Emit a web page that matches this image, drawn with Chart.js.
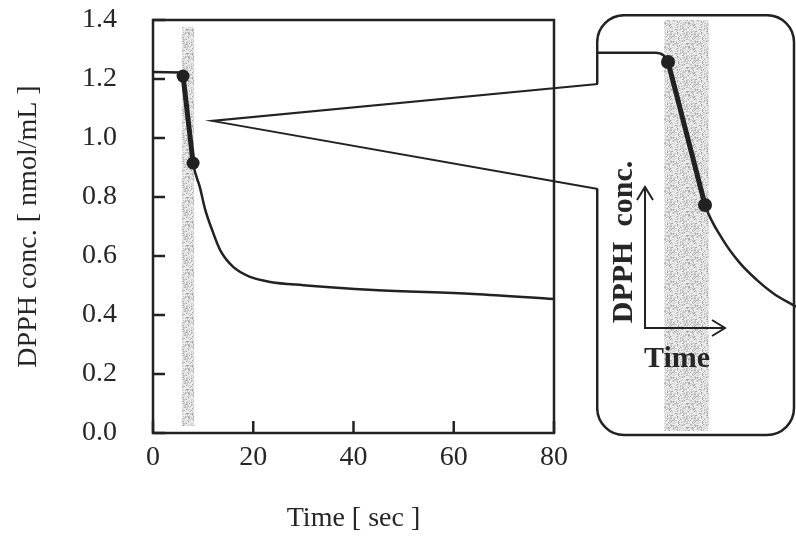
<!DOCTYPE html>
<html>
<head>
<meta charset="utf-8">
<script src="https://cdn.jsdelivr.net/npm/chart.js@4.4.1/dist/chart.umd.min.js"></script>
<style>
  html, body { margin: 0; padding: 0; background: #fff; }
  #wrap { position: relative; width: 796px; height: 542px; overflow: hidden; }
  #main { position: absolute; left: 0; top: 0; }
  #inset { position: absolute; left: 596px; top: 14px; }
</style>
</head>
<body>
<div id="wrap">
  <canvas id="main" width="796" height="542"></canvas>
  <canvas id="inset" width="200" height="423"></canvas>
</div>
<script>
// main curve (sec, nmol/mL)
const timeSec = [0, 5.4, 6, 8, 9.4, 10.4, 11.8, 13.4, 16, 19.4, 23.4, 30, 44, 64, 80];
const concMain = [1.224, 1.222, 1.21, 0.915, 0.83, 0.758, 0.688, 0.62, 0.563, 0.529, 0.512, 0.501, 0.485, 0.471, 0.454];

// the two marked points and the shaded interval
const markerTime = [6, 8];
const markerConc = [1.21, 0.915];
const bandSec = [5.8, 8.2];

// zoomed schematic in the inset
const insetTime = [2.1, 5.3, 5.75, 6, 8, 8.97, 9.89, 10.81, 11.68, 12.92];
const insetConc = [1.229, 1.229, 1.224, 1.21, 0.915, 0.843, 0.795, 0.76, 0.733, 0.705];

// where the callout wedge starts
const calloutApex = [11.8, 1.058];

const xTicks = [0, 20, 40, 60, 80];
const yTicks = [0, 0.2, 0.4, 0.6, 0.8, 1.0, 1.2, 1.4];

const ink = '#222';
const textCol = '#262626';
const serif = '"Liberation Serif", "Times New Roman", serif';
const font = { family: serif, size: 28 };

const INSET_X = 596, INSET_Y = 14;

function pts(xs, ys) {
  return xs.map((x, i) => ({ x: x, y: ys[i] }));
}

function stipple(ctx) {
  const c = document.createElement('canvas');
  c.width = c.height = 24;
  const g = c.getContext('2d');
  g.fillStyle = '#ebebeb';
  g.fillRect(0, 0, 24, 24);
  for (let i = 0; i < 24; i++) {
    for (let j = 0; j < 24; j++) {
      const h = Math.abs(Math.sin(i * 12.9898 + j * 78.233) * 43758.5453) % 1;
      if (h < 0.4) {
        g.fillStyle = h < 0.1 ? '#a8a8a8' : '#cdcdcd';
        g.fillRect(i, j, 1, 1);
      }
    }
  }
  return ctx.createPattern(c, 'repeat');
}

// shaded reaction interval, drawn under the lines
const band = {
  id: 'band',
  beforeDatasetsDraw(chart, args, opts) {
    const { ctx, chartArea: a, scales: { x } } = chart;
    const x0 = x.getPixelForValue(bandSec[0]);
    const x1 = x.getPixelForValue(bandSec[1]);
    ctx.save();
    ctx.fillStyle = stipple(ctx);
    ctx.fillRect(x0, a.top + opts.inset, x1 - x0, a.bottom - a.top - 2 * opts.inset);
    ctx.restore();
  }
};

// frame, inward ticks and the callout wedge
const frame = {
  id: 'frame',
  afterDraw(chart) {
    const { ctx, chartArea: a, scales: { x, y } } = chart;
    ctx.save();
    ctx.strokeStyle = ink;
    ctx.lineWidth = 2.5;
    ctx.strokeRect(a.left, a.top, a.right - a.left, a.bottom - a.top);
    ctx.beginPath();
    x.ticks.forEach(t => {
      const px = x.getPixelForValue(t.value);
      ctx.moveTo(px, a.bottom);
      ctx.lineTo(px, a.bottom - 12);
    });
    y.ticks.forEach(t => {
      const py = y.getPixelForValue(t.value);
      ctx.moveTo(a.left, py);
      ctx.lineTo(a.left + 12, py);
    });
    ctx.stroke();

    const ax = x.getPixelForValue(calloutApex[0]);
    const ay = y.getPixelForValue(calloutApex[1]);
    ctx.lineWidth = 2;
    ctx.beginPath();
    ctx.moveTo(INSET_X + 2, INSET_Y + 70);
    ctx.lineTo(ax, ay);
    ctx.lineTo(INSET_X + 2, INSET_Y + 175);
    ctx.stroke();
    ctx.restore();
  }
};

new Chart(document.getElementById('main'), {
  type: 'line',
  data: {
    datasets: [
      {
        data: pts(timeSec, concMain),
        borderColor: ink,
        borderWidth: 2.5,
        pointRadius: 0,
        cubicInterpolationMode: 'monotone'
      },
      {
        data: pts(markerTime, markerConc),
        borderColor: ink,
        borderWidth: 5,
        pointRadius: 6.5,
        pointBackgroundColor: ink,
        pointBorderWidth: 0
      }
    ]
  },
  options: {
    responsive: false,
    animation: false,
    layout: { autoPadding: false, padding: { top: 20, right: 242, left: 0, bottom: 0 } },
    plugins: {
      legend: { display: false },
      tooltip: { enabled: false },
      band: { inset: 7 }
    },
    scales: {
      x: {
        type: 'linear',
        min: 0,
        max: 80,
        afterBuildTicks: s => { s.ticks = xTicks.map(v => ({ value: v })); },
        // invisible tick length is used as the gap to the labels
        grid: { display: false, drawTicks: true, tickLength: 8 },
        border: { display: false },
        ticks: { font: font, color: textCol, padding: 0, maxRotation: 0 },
        title: { display: true, text: 'Time [ sec ]', font: font, color: textCol, padding: { top: 0, bottom: 7 } },
        afterFit: s => { s.height = 109; }
      },
      y: {
        type: 'linear',
        min: 0,
        max: 1.4,
        afterBuildTicks: s => { s.ticks = yTicks.map(v => ({ value: v })); },
        grid: { display: false, drawTicks: true, tickLength: 36 },
        border: { display: false },
        ticks: { font: font, color: textCol, padding: 0, callback: v => v.toFixed(1) },
        title: { display: true, text: 'DPPH conc. [ nmol/mL ]', font: font, color: textCol, padding: { top: 12, bottom: 0 } },
        afterFit: s => { s.width = 153; }
      }
    }
  },
  plugins: [band, frame]
});

// inset: rounded box, schematic axes with arrows
const insetDecor = {
  id: 'insetDecor',
  afterDraw(chart) {
    const { ctx } = chart;
    const l = 1.2, t = 1.2, r = 198, b = 421, rad = 27;
    ctx.save();
    ctx.strokeStyle = ink;
    ctx.lineWidth = 2.5;
    ctx.beginPath();
    ctx.moveTo(l, 70);
    ctx.arcTo(l, t, l + rad, t, rad);
    ctx.arcTo(r, t, r, t + rad, rad);
    ctx.arcTo(r, b, r - rad, b, rad);
    ctx.arcTo(l, b, l, b - rad, rad);
    ctx.lineTo(l, 175);
    ctx.stroke();

    // little axes
    const ox = 49, oy = 314, top = 173, right = 129, head = 11;
    ctx.lineWidth = 2;
    ctx.beginPath();
    ctx.moveTo(ox, top);
    ctx.lineTo(ox, oy);
    ctx.lineTo(right, oy);
    ctx.moveTo(ox - 8, top + head + 2);
    ctx.lineTo(ox, top);
    ctx.lineTo(ox + 8, top + head + 2);
    ctx.moveTo(right - head - 2, oy - 8);
    ctx.lineTo(right, oy);
    ctx.lineTo(right - head - 2, oy + 8);
    ctx.stroke();

    ctx.fillStyle = textCol;
    ctx.font = 'bold 30px ' + serif;
    ctx.textAlign = 'center';
    ctx.textBaseline = 'alphabetic';
    ctx.fillText('Time', 81, 353);
    ctx.translate(36, 228);
    ctx.rotate(-Math.PI / 2);
    ctx.fillText('DPPH  conc.', 0, 0);
    ctx.restore();
  }
};

new Chart(document.getElementById('inset'), {
  type: 'line',
  data: {
    datasets: [
      {
        data: pts(insetTime, insetConc),
        borderColor: ink,
        borderWidth: 2.5,
        pointRadius: 0,
        cubicInterpolationMode: 'monotone'
      },
      {
        data: pts(markerTime, markerConc),
        borderColor: ink,
        borderWidth: 5,
        pointRadius: 7,
        pointBackgroundColor: ink,
        pointBorderWidth: 0
      }
    ]
  },
  options: {
    responsive: false,
    animation: false,
    layout: { autoPadding: false, padding: 0 },
    plugins: {
      legend: { display: false },
      tooltip: { enabled: false },
      band: { inset: 6 }
    },
    scales: {
      x: { type: 'linear', display: false, min: 2.108, max: 12.919, ticks: { display: false } },
      y: { type: 'linear', display: false, min: 0.4363, max: 1.309, ticks: { display: false } }
    }
  },
  plugins: [band, insetDecor]
});
</script>
</body>
</html>
